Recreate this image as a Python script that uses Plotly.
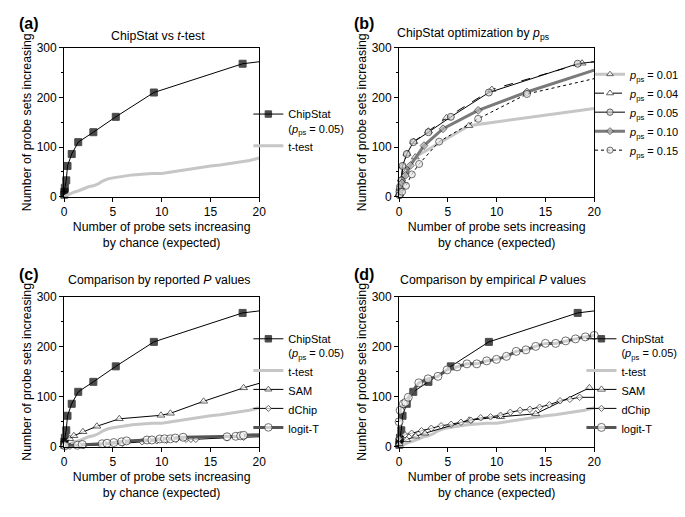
import plotly.graph_objects as go

# ---------------- data ----------------
chipstat_x = [0.02, 0.03, 0.08, 0.22, 0.35, 0.78, 1.45, 3.0, 5.3, 9.2, 18.3, 20]
chipstat_y = [4, 10, 18, 33, 62, 86, 110, 130, 161, 210, 268, 272]

ttest_x = [0, 0.5, 1, 1.5, 2, 2.5, 3, 3.5, 4, 4.5, 5, 5.5, 6, 7, 8, 9, 10, 11, 12, 13, 14, 15, 16, 17, 18, 19, 20]
ttest_y = [0, 5, 9, 12, 16, 20, 22, 26, 32, 36, 38, 40, 41, 44, 46, 47, 47, 50, 53, 57, 59, 62, 64, 67, 70, 73, 78]

# panel (b): ChipStat for different p_ps
p01_x = [0.02, 0.1, 0.3, 0.7, 1.65, 7.15, 20]
p01_y = [5, 15, 30, 50, 80, 143, 178]
p04_x = [0.02, 0.1, 0.25, 0.4, 0.8, 1.5, 3.0, 4.85, 9.5, 18.75, 20]
p04_y = [5, 18, 35, 62, 87, 111, 132, 159, 216, 269, 272]
p10_x = [0.02, 0.13, 0.3, 0.64, 1.15, 2.55, 4.5, 8.1, 13.1, 20]
p10_y = [3, 23, 28, 43, 63, 103, 137, 174, 211, 255]
p15_x = [0.05, 0.3, 0.7, 1.3, 2.05, 4.1, 8.1, 13.1, 20]
p15_y = [3, 10, 22, 45, 66, 111, 157, 207, 238]

# panel (c): reported P values
sam_c_x = [0.05, 0.58, 1.0, 1.93, 3.36, 5.66, 9.93, 10.9, 14.3, 18.4, 20]
sam_c_y = [5, 16, 22, 30, 41, 56, 63, 67, 91, 118, 127]
dchip_c_x = [0.05, 0.6, 2.0, 4.0, 6.0, 8.0, 9.5, 10.5, 11.5, 12.5, 13.0, 13.5, 16.7, 18.4, 20]
dchip_c_y = [1, 1, 2, 4, 7, 10, 12, 13, 15, 15, 15, 15, 18, 19, 20]
logit_c_x = [0.1, 1.36, 1.86, 3.9, 4.4, 5.1, 5.9, 6.4, 8.5, 9.0, 9.8, 10.3, 10.9, 11.4, 12.2, 16.7, 17.6, 18.1, 18.4, 20]
logit_c_y = [2, 3, 4.5, 6, 7, 8.4, 10, 11.7, 13.6, 13.6, 15.6, 16, 16, 17.5, 19, 20, 21, 22, 23, 24]

# panel (d): empirical P values
sam_d_x = [0, 0.78, 1.69, 2.63, 7.18, 10.4, 14.0, 19.5]
sam_d_y = [6, 14, 21, 27, 53, 60, 66, 118]
dchip_d_x = [0, 0.6, 1.28, 2.29, 3.3, 4.3, 5.33, 6.34, 7.35, 8.36, 9.37, 10.4, 11.4, 12.4, 13.4, 14.4, 15.4, 16.5, 17.5, 18.5, 20]
dchip_d_y = [16, 24, 27, 32, 37, 42, 45, 49, 53, 58, 60, 63, 69, 73, 75, 79, 84, 92, 95, 99, 99]
logit_d_x = [0, 0.1, 0.44, 0.67, 0.94, 2.02, 2.97, 3.98, 4.92, 5.94, 6.95, 7.96, 8.97, 9.98, 11.0, 12.0, 13.0, 14.0, 15.0, 16.05, 17.07, 18.08, 19.09, 20]
logit_d_y = [50, 73, 86, 89, 99, 128, 136, 141, 154, 160, 166, 166, 172, 175, 181, 191, 194, 201, 207, 207, 212, 216, 220, 223]

panel_titles = ["ChipStat vs <i>t</i>-test",
                "ChipStat optimization by <i>p</i><sub>ps</sub>",
                "Comparison by reported <i>P</i> values",
                "Comparison by empirical <i>P</i> values"]
panel_labels = ["(a)", "(b)", "(c)", "(d)"]
chip_name = "ChipStat<br>(<i>p</i><sub>ps</sub> = 0.05)"

# ---------------- figure ----------------
W, H = 685, 517
FONT = "Liberation Sans, Arial, Helvetica, sans-serif"
fig = go.Figure()

def sizes(n, s, last_hidden=True):
    arr = [s] * n
    if last_hidden:
        arr[-1] = 0
    return arr

def add(x, y, name, xa, ya, leg, color="black", width=1, dash="solid",
        symbol="square", msize=7, mfill="black", mline="black", hide_last=True, markers=True):
    fig.add_trace(go.Scatter(
        x=x, y=y, name=name, xaxis=xa, yaxis=ya, legend=leg,
        mode="lines+markers" if markers else "lines",
        line=dict(color=color, width=width, dash=dash),
        marker=dict(symbol=symbol, size=sizes(len(x), msize, hide_last), color=mfill,
                    line=dict(color=mline, width=1)),
        cliponaxis=False, showlegend=True))

GRAY_L = "#c6c6c6"
GRAY_D = "#7a7a7a"

# (a)
add(chipstat_x, chipstat_y, chip_name, "x", "y", "legend")
add(ttest_x, ttest_y, "t-test", "x", "y", "legend", color=GRAY_L, width=3, markers=False)

# (b)
add(p01_x, p01_y, "<i>p</i><sub>ps</sub> = 0.01", "x2", "y2", "legend2", color=GRAY_L, width=3,
    symbol="triangle-up", msize=7, mfill="white", mline="#333")
add(p04_x, p04_y, "<i>p</i><sub>ps</sub> = 0.04", "x2", "y2", "legend2", color="black", width=1,
    dash="dash", symbol="triangle-up", msize=7, mfill="white", mline="#222")
add(chipstat_x, chipstat_y, "<i>p</i><sub>ps</sub> = 0.05", "x2", "y2", "legend2", color="black",
    width=1, symbol="circle", msize=7, mfill="#cfcfcf", mline="#222")
add(p10_x, p10_y, "<i>p</i><sub>ps</sub> = 0.10", "x2", "y2", "legend2", color=GRAY_D, width=3,
    symbol="diamond", msize=6, mfill="#bbbbbb", mline="#333")
add(p15_x, p15_y, "<i>p</i><sub>ps</sub> = 0.15", "x2", "y2", "legend2", color="black", width=1,
    dash="dot", symbol="circle", msize=7, mfill="#e8e8e8", mline="#333")

# (c)
add(chipstat_x, chipstat_y, chip_name, "x3", "y3", "legend3")
add(ttest_x, ttest_y, "t-test", "x3", "y3", "legend3", color=GRAY_L, width=3, markers=False)
add(sam_c_x, sam_c_y, "SAM", "x3", "y3", "legend3", symbol="triangle-up", msize=7, mfill="white", mline="#222")
add(dchip_c_x, dchip_c_y, "dChip", "x3", "y3", "legend3", symbol="diamond", msize=5, mfill="white", mline="#222")
add(logit_c_x, logit_c_y, "logit-T", "x3", "y3", "legend3", color="#555555", width=3,
    symbol="circle", msize=8, mfill="white", mline="#333")

# (d)
add(chipstat_x, chipstat_y, chip_name, "x4", "y4", "legend4")
add(ttest_x, ttest_y, "t-test", "x4", "y4", "legend4", color=GRAY_L, width=3, markers=False)
add(sam_d_x, sam_d_y, "SAM", "x4", "y4", "legend4", symbol="triangle-up", msize=7, mfill="white",
    mline="#222", hide_last=False)
add(dchip_d_x, dchip_d_y, "dChip", "x4", "y4", "legend4", symbol="diamond", msize=5, mfill="white", mline="#222")
add(logit_d_x, logit_d_y, "logit-T", "x4", "y4", "legend4", color="#555555", width=3,
    symbol="circle", msize=8, mfill="white", mline="#333", hide_last=False)

# domains in pixels
cols = [(62, 260), (402, 600)]
rows = [(42, 195), (298, 452)]

def xd(c):
    return [c[0] / W, c[1] / W]

def yd(r):
    return [1 - r[1] / H, 1 - r[0] / H]

axis_common = dict(showline=True, linecolor="black", linewidth=1, mirror=True, ticks="outside",
                   ticklen=4, tickwidth=1, tickcolor="black", showgrid=False, zeroline=False,
                   tickfont=dict(size=12, color="black", family=FONT))
xtitle = "Number of probe sets increasing<br>by chance (expected)"
ytitle = "Number of probe sets increasing"

layout = dict(width=W, height=H, margin=dict(l=0, r=0, t=0, b=0),
              paper_bgcolor="white", plot_bgcolor="white",
              font=dict(family=FONT, color="black", size=12.3))
positions = [(0, 0), (0, 1), (1, 0), (1, 1)]
for i, (r, c) in enumerate(positions):
    s = "" if i == 0 else str(i + 1)
    layout["xaxis" + s] = dict(domain=xd(cols[c]), range=[0, 20], tickvals=[0, 5, 10, 15, 20],
                               anchor="y" + s,
                               title=dict(text=xtitle, font=dict(size=12.3), standoff=4),
                               **axis_common)
    layout["yaxis" + s] = dict(domain=yd(rows[r]), range=[0, 300], tickvals=[0, 100, 200, 300],
                               anchor="x" + s,
                               minor=dict(ticks="outside", ticklen=2, tickvals=[50, 150, 250], tickcolor="black"),
                               title=dict(text=ytitle, font=dict(size=12.3), standoff=2),
                               **axis_common)

leg_common = dict(font=dict(size=11, family=FONT, color="black"), bgcolor="rgba(0,0,0,0)",
                  xanchor="left", yanchor="top", traceorder="normal", valign="top",
                  tracegroupgap=0, itemclick=False)
layout["legend"] = dict(x=249 / W, y=1 - 96 / H, **leg_common)
layout["legend2"] = dict(x=596 / W, y=1 - 55 / H, **leg_common)
layout["legend3"] = dict(x=249 / W, y=1 - 327 / H, **leg_common)
layout["legend4"] = dict(x=587 / W, y=1 - 327 / H, **leg_common)

ann = []
title_pos = [(157, 30), (477, 28), (159, 281), (497, 281)]
label_pos = [(14, 17), (354, 17), (14, 275), (354, 275)]
for i in range(4):
    ann.append(dict(text=panel_titles[i], x=title_pos[i][0] / W, y=1 - title_pos[i][1] / H,
                    xref="paper", yref="paper", showarrow=False, xanchor="center", yanchor="middle",
                    font=dict(size=12.3, family=FONT, color="black")))
    ann.append(dict(text="<b>" + panel_labels[i] + "</b>", x=label_pos[i][0] / W, y=1 - label_pos[i][1] / H,
                    xref="paper", yref="paper", showarrow=False, xanchor="left", yanchor="middle",
                    font=dict(size=16, family=FONT, color="black")))
layout["annotations"] = ann
fig.update_layout(**layout)
fig.write_html("out.html", config={"displayModeBar": False},
               post_script="document.body.style.margin='0';document.body.style.padding='0';")
